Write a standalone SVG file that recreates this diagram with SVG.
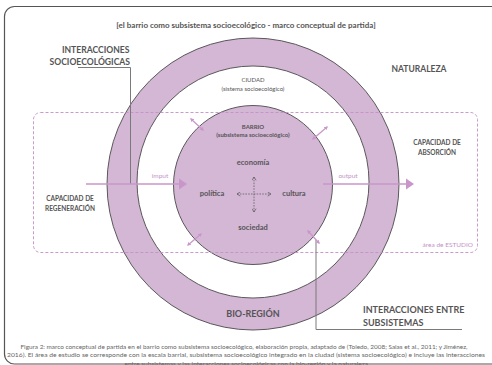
<svg xmlns="http://www.w3.org/2000/svg" width="492" height="365" viewBox="0 0 492 365">
<defs>
<style>
.t{font-family:Lato,"Liberation Sans",sans-serif;fill:#555;text-anchor:middle}
.b{font-weight:bold}
.e{text-anchor:end}
.s{text-anchor:start}
.lav{fill:#c493c7}
.ring{fill:#d4b6d5;stroke:#4a4a4a;stroke-width:0.9}
.lead{fill:none;stroke:#7a7a7a;stroke-width:1}
.flow{stroke:#c996ca;stroke-width:1.6;fill:none}
.dbl{stroke:#c996ca;stroke-width:1.3;fill:none;marker-start:url(#sa);marker-end:url(#sa)}
.cross{stroke:#555;stroke-width:0.7;stroke-dasharray:1.6 1.2;fill:none;marker-start:url(#ch);marker-end:url(#ch)}
</style>
<marker id="sa" viewBox="0 0 6 6" refX="4" refY="3" markerWidth="3" markerHeight="3" orient="auto-start-reverse" markerUnits="strokeWidth">
<path d="M0,0 L6,3 L0,6 z" fill="#c996ca"/>
</marker>
<marker id="ch" viewBox="0 0 6 6" refX="5" refY="3" markerWidth="5" markerHeight="5" orient="auto-start-reverse" markerUnits="userSpaceOnUse">
<path d="M1,0.5 L5,3 L1,5.5" fill="none" stroke="#555" stroke-width="0.8"/>
</marker>
</defs>
<rect x="0" y="0" width="492" height="365" fill="#fff"/>
<rect id="frame" x="4.5" y="6.5" width="510" height="357.5" rx="10" fill="none" stroke="#555" stroke-width="1.2"/>
<text class="t b" x="246" y="28" font-size="8">[el barrio como subsistema socioecológico - marco conceptual de partida]</text>

<g id="bioregion">
<circle class="ring" cx="253" cy="184" r="146"/>
<text class="t b" x="253" y="317" font-size="9">BIO-REGIÓN</text>
</g>
<g id="ciudad">
<circle cx="253" cy="182" r="116" fill="#fff" stroke="#4a4a4a" stroke-width="0.9"/>
<text class="t" x="253" y="82" font-size="6">CIUDAD</text>
<text class="t" x="253" y="91" font-size="6">(sistema socioecológico)</text>
</g>
<g id="barrio">
<circle class="ring" cx="253" cy="185" r="79.5"/>
<text class="t b" x="253" y="129" font-size="6">BARRIO</text>
<text class="t b" x="253" y="137" font-size="6">(subsistema socioecológico)</text>
<text class="t b" x="253" y="165" font-size="7.5">economía</text>
<text class="t b" x="212" y="196" font-size="7.5">política</text>
<text class="t b" x="294" y="196" font-size="7.5">cultura</text>
<text class="t b" x="253" y="230" font-size="7.5">sociedad</text>
</g>

<g id="area-estudio">
<rect x="33.5" y="112.5" width="444" height="140" rx="7" fill="none" stroke="#c48fc9" stroke-width="0.9" stroke-dasharray="3 2"/>
<text class="t lav e" x="473" y="247" font-size="6.5">área de ESTUDIO</text>
</g>

<g id="naturaleza">
<text class="t b" x="419" y="72" font-size="8.5">NATURALEZA</text>
</g>
<g id="cap-regeneracion">
<text class="t b" x="70" y="201" font-size="6.5">CAPACIDAD DE</text>
<text class="t b" x="70" y="211" font-size="6.5">REGENERACIÓN</text>
</g>
<g id="cap-absorcion">
<text class="t b" x="437" y="145" font-size="6.5">CAPACIDAD DE</text>
<text class="t b" x="437" y="155" font-size="6.5">ABSORCIÓN</text>
</g>
<g id="int-socio">
<text class="t b e" x="129.5" y="53" font-size="8.6">INTERACCIONES</text>
<text class="t b e" x="130" y="65" font-size="8.6">SOCIOECOLÓGICAS</text>
</g>
<g id="int-sub">
<text class="t b s" x="363" y="313" font-size="9">INTERACCIONES ENTRE</text>
<text class="t b s" x="363" y="326" font-size="9">SUBSISTEMAS</text>
</g>

<g id="connectors">
<polyline class="lead" points="78,67.5 130.5,67.5 130.5,184"/>
<polyline class="lead" points="316,240 316,329.5 462,329.5"/>
<line class="flow" x1="86" y1="184" x2="181" y2="184"/>
<polygon points="179,178.5 187,184 179,189.5" fill="#c996ca"/>
<text class="t lav" x="160" y="178" font-size="6.5">imput</text>
<line class="flow" x1="323" y1="184" x2="408" y2="184"/>
<polygon points="406,178.5 414,184 406,189.5" fill="#c996ca"/>
<text class="t lav" x="348" y="178" font-size="6.5">output</text>
<line class="dbl" x1="191" y1="119" x2="203" y2="130"/>
<line class="dbl" x1="313" y1="139" x2="327" y2="127"/>
<line class="dbl" x1="188" y1="245" x2="201" y2="234"/>
<line class="dbl" x1="308" y1="231" x2="319" y2="243"/>
<line class="cross" x1="237" y1="194" x2="271" y2="194"/>
<line class="cross" x1="254" y1="177" x2="254" y2="212"/>
</g>

<g id="caption" font-family="Lato,'Liberation Sans',sans-serif" font-size="5.5" fill="#666" text-anchor="middle">
<text x="244" y="348.5" textLength="447" lengthAdjust="spacingAndGlyphs">Figura 2: marco conceptual de partida en el barrio como subsistema socioecológico, elaboración propia, adaptado de (Toledo, 2008; Salas et al., 2011; y Jiménez,</text>
<text x="246" y="357" textLength="478" lengthAdjust="spacingAndGlyphs">2016). El área de estudio se corresponde con la escala barrial, subsistema socioecológico integrado en la ciudad (sistema socioecológico) e incluye las interacciones</text>
<text x="247" y="365.5" textLength="245" lengthAdjust="spacingAndGlyphs">entre subsistemas y las interacciones socioecológicas con la bio-región y la naturaleza.</text>
</g>
</svg>
